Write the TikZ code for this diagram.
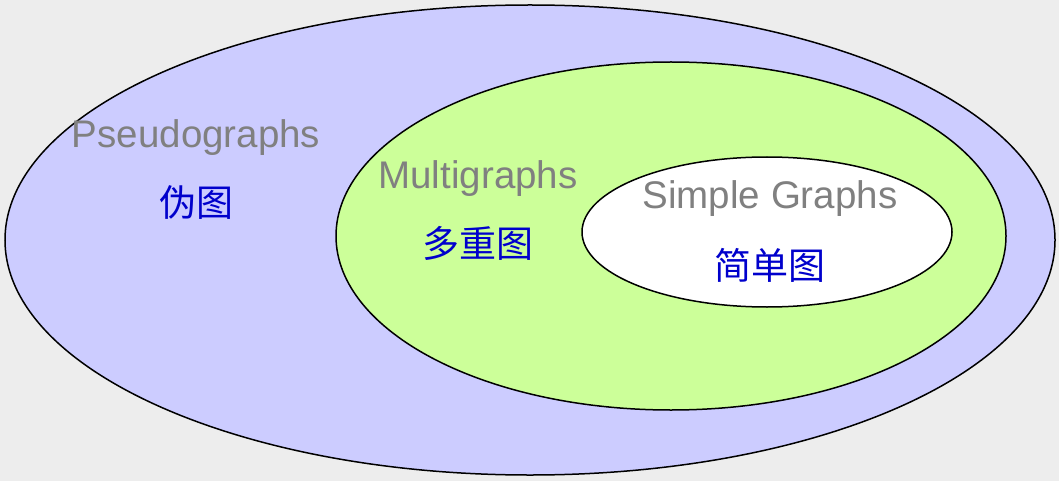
\documentclass[tikz,border=0pt]{standalone}
\usepackage{fontspec}
\setmainfont{Liberation Sans}
\newfontfamily\cjk{Noto Sans CJK SC}
\definecolor{bgray}{HTML}{EDEDED}
\definecolor{pseudo}{HTML}{CCCCFF}
\definecolor{multi}{HTML}{CCFF99}
\definecolor{lbl}{HTML}{808080}
\definecolor{cn}{HTML}{0000CC}
\tikzset{
  setell/.style={draw=black, line width=1.5pt},
  entext/.style={text=lbl, font=\fontsize{38.5}{40}\selectfont, anchor=base, inner sep=0pt},
  cntext/.style={text=cn, font=\cjk\fontsize{37}{40}\selectfont, inner sep=0pt}
}
\begin{document}
\begin{tikzpicture}[x=1pt,y=-1pt]
\fill[bgray] (0,0) rectangle (1059,481);
\useasboundingbox (0,0) rectangle (1059,481);
\draw[setell, fill=pseudo] (530,240) ellipse [x radius=525, y radius=235];
\draw[setell, fill=multi] (671,236) ellipse [x radius=335, y radius=174];
\draw[setell, fill=white] (767,232) ellipse [x radius=185, y radius=75];
\node[entext] (pseudo) at (196,148) {Pseudographs};
\node[cntext] (pseudocn) at (196,203) {伪图};
\node[entext] (multi) at (478,188) {Multigraphs};
\node[cntext] (multicn) at (478,243) {多重图};
\node[entext] (simple) at (770,208) {Simple Graphs};
\node[cntext] (simplecn) at (770,265) {简单图};
\end{tikzpicture}
\end{document}
